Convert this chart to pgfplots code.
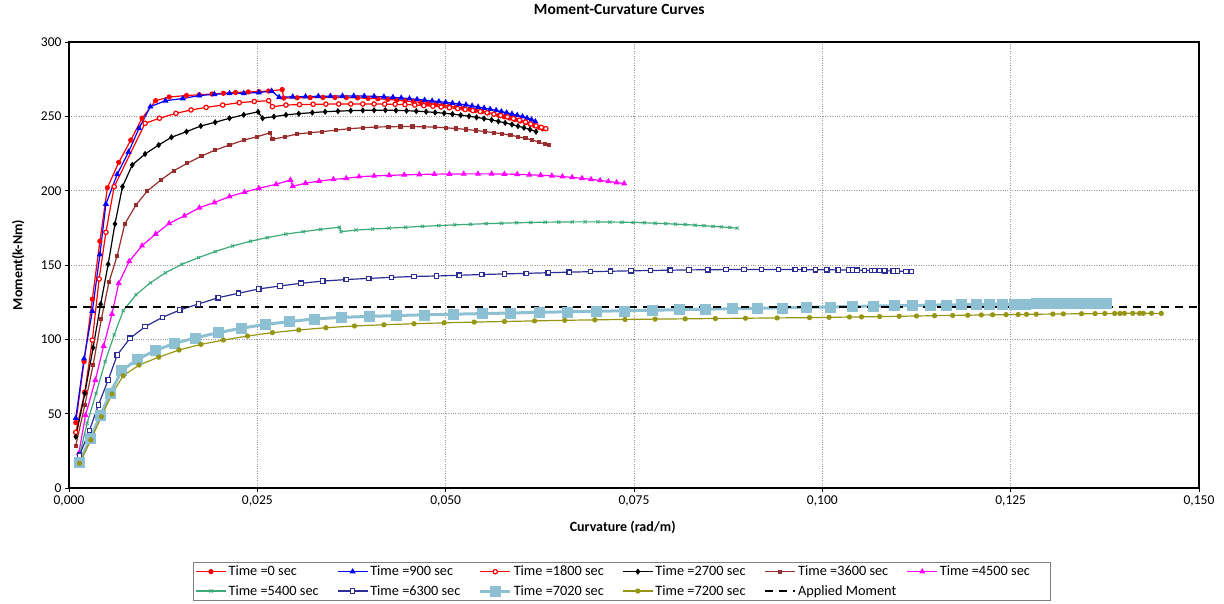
\documentclass[border=0pt]{standalone}
\usepackage{fontspec}
\setmainfont{Carlito}
\usepackage{pgfplots}
\pgfplotsset{compat=1.18}
\definecolor{cRed}{RGB}{255,0,0}
\definecolor{cBlue}{RGB}{0,0,255}
\definecolor{cDarkRed}{RGB}{153,45,45}
\definecolor{cMag}{RGB}{255,0,255}
\definecolor{cGreen}{RGB}{60,170,120}
\definecolor{cNavy}{RGB}{45,45,150}
\definecolor{cLBlue}{RGB}{140,192,210}
\definecolor{cOlive}{RGB}{150,150,20}
\begin{document}
\begin{tikzpicture}[x=1pt,y=1pt]
\useasboundingbox (0,0) rectangle (1224,603);
\begin{axis}[
  at={(69pt,115pt)}, anchor=south west,
  width=1130pt, height=446pt, scale only axis,
  xmin=0, xmax=0.15, ymin=0, ymax=300,
  xtick={0,0.025,0.05,0.075,0.1,0.125,0.15},
  xticklabels={{0,000},{0,025},{0,050},{0,075},{0,100},{0,125},{0,150}},
  ytick={0,50,100,150,200,250,300},
  yticklabels={0,50,100,150,200,250,300},
  scaled x ticks=false,
  grid=major, grid style={gray!80, dotted, line width=0.8pt},
  tick align=outside, tick pos=left, major tick length=4pt,
  tick style={black, line width=0.8pt},
  axis line style={black, line width=1.2pt},
  ticklabel style={font=\fontsize{13.5}{16}\selectfont},
  title={Moment-Curvature Curves},
  title style={at={(axis description cs:0.487,1.0605)}, anchor=center, font=\bfseries\fontsize{15.5}{18}\selectfont},
  xlabel={Curvature (rad/m)},
  xlabel style={at={(axis description cs:0.49,-0.0874)}, anchor=center, font=\bfseries\fontsize{14}{16}\selectfont},
  ylabel={Moment(k-Nm)},
  ylabel style={at={(axis description cs:-0.045,0.5)}, anchor=center, font=\bfseries\fontsize{14}{16}\selectfont},
  legend columns=6,
  legend cell align=left,
  legend style={at={(axis description cs:0.1097,-0.165)}, anchor=north west,
    draw=gray, line width=0.8pt, font=\fontsize{14.3}{16}\selectfont,
    inner sep=2pt, row sep=4pt,
    /tikz/every even column/.append style={column sep=0pt}},
  legend image code/.code={\draw[mark repeat=2,mark phase=2] plot coordinates {(0pt,0pt) (15pt,0pt) (30pt,0pt)};},
  every axis plot/.append style={line width=1.2pt},
]
% Time = 0 sec
\addplot[color=cRed, mark=*, mark size=2pt] coordinates {
(0.0009,44) (0.0020,85) (0.0031,127) (0.0041,166) (0.0051,202) (0.0066,219) (0.0082,234) (0.0097,248.7) (0.0115,260.5) (0.0133,263) (0.0156,264) (0.0173,264.5) (0.0190,265) (0.0205,265.5) (0.0221,266) (0.0238,266.4) (0.0252,266.6) (0.0265,267) (0.0283,268)
(0.0285,262.3) (0.0303,262.5) (0.0320,262.6) (0.0337,262.7) (0.0353,262.7) (0.0368,262.6) (0.0383,262.4) (0.0397,262.1) (0.0410,261.8) (0.0423,261.4) (0.0435,260.9) (0.0446,260.4) (0.0457,259.9) (0.0467,259.3) (0.0477,258.7) (0.0487,258.1) (0.0496,257.5) (0.0505,256.9) (0.0514,256.2) (0.0523,255.5) (0.0532,254.8) (0.0540,254.0) (0.0548,253.2) (0.0556,252.4) (0.0564,251.5) (0.0571,250.6) (0.0578,249.7) (0.0585,248.8) (0.0592,247.8) (0.0599,246.8) (0.0606,245.7) (0.0612,244.7) (0.0618,243.7) (0.0624,242.6) (0.0629,241.6)
};
\addlegendentry{\makebox[106.5pt][l]{Time =0 sec}}
% Time = 900 sec
\addplot[color=cBlue, mark=triangle*, mark size=2.4pt] coordinates {
(0.0009,47) (0.0020,87) (0.0031,119) (0.0041,157) (0.0049,191) (0.0064,211) (0.0079,226) (0.0093,242) (0.0108,256.5) (0.0128,260.5) (0.0151,262) (0.0173,264) (0.0193,264.8) (0.0213,265.5) (0.0232,265.5) (0.0252,266) (0.0269,267)
(0.0279,262.8) (0.0297,263.2) (0.0314,263.3) (0.0331,263.5) (0.0347,263.6) (0.0363,263.7) (0.0378,263.7) (0.0392,263.6) (0.0405,263.4) (0.0418,263.1) (0.0430,262.8) (0.0441,262.4) (0.0452,261.9) (0.0462,261.4) (0.0472,260.9) (0.0482,260.4) (0.0491,259.9) (0.0500,259.4) (0.0509,258.9) (0.0518,258.3) (0.0527,257.7) (0.0535,257.0) (0.0543,256.3) (0.0551,255.6) (0.0559,254.8) (0.0567,254.0) (0.0574,253.2) (0.0581,252.4) (0.0588,251.6) (0.0595,250.7) (0.0602,249.8) (0.0608,248.8) (0.0614,247.7) (0.0619,246.5)
};
\addlegendentry{\makebox[106.5pt][l]{Time =900 sec}}
% Time = 1800 sec
\addplot[color=cRed, mark=*, mark size=2.2pt, mark options={fill=white}] coordinates {
(0.0009,37.4) (0.0021,64.4) (0.0031,99.5) (0.0040,140.6) (0.0049,172) (0.0060,202.7) (0.0101,245.3) (0.0120,248.7) (0.0142,252) (0.0162,254.3) (0.0182,256) (0.0204,257.6) (0.0226,259.2) (0.0246,260) (0.0265,260.5)
(0.0270,256.5) (0.0288,257.6) (0.0306,257.9) (0.0324,258.1) (0.0341,258.2) (0.0358,258.3) (0.0374,258.3) (0.0390,258.3) (0.0405,258.3) (0.0419,258.2) (0.0433,258.1) (0.0446,257.9) (0.0459,257.6) (0.0471,257.2) (0.0483,256.8) (0.0494,256.3) (0.0505,255.8) (0.0516,255.2) (0.0526,254.6) (0.0536,253.9) (0.0546,253.2) (0.0555,252.4) (0.0564,251.5) (0.0573,250.6) (0.0582,249.6) (0.0590,248.5) (0.0598,247.4) (0.0606,246.2) (0.0613,244.9) (0.0620,243.6) (0.0627,242.6) (0.0633,241.7)
};
\addlegendentry{\makebox[106.5pt][l]{Time =1800 sec}}
% Time = 2700 sec
\addplot[color=black, mark=diamond*, mark size=2.2pt] coordinates {
(0.0009,34.5) (0.0021,63.7) (0.0032,94.4) (0.0042,123.6) (0.0052,150.5) (0.0061,177.6) (0.0071,202.7) (0.0084,217.3) (0.0101,224.7) (0.0119,230.7) (0.0136,235.9) (0.0156,239.7) (0.0175,243.5) (0.0194,246) (0.0213,248.7) (0.0232,251) (0.0251,253)
(0.0257,248.7) (0.0272,249.8) (0.0288,251) (0.0305,251.8) (0.0323,252.5) (0.0340,253.1) (0.0357,253.5) (0.0374,253.8) (0.0390,254) (0.0405,254.1) (0.0420,254.1) (0.0434,254) (0.0448,253.8) (0.0461,253.5) (0.0474,253.1) (0.0486,252.6) (0.0498,252.1) (0.0509,251.5) (0.0520,250.8) (0.0531,250.1) (0.0541,249.3) (0.0551,248.5) (0.0561,247.6) (0.0570,246.6) (0.0579,245.6) (0.0588,244.5) (0.0596,243.4) (0.0604,242.3) (0.0612,241.1) (0.0620,239.7)
};
\addlegendentry{\makebox[106.5pt][l]{Time =2700 sec}}
% Time = 3600 sec
\addplot[color=cDarkRed, mark=square*, mark size=1.5pt] coordinates {
(0.0009,28.5) (0.0021,55.8) (0.0032,82.7) (0.0043,113.7) (0.0053,138.4) (0.0064,156.3) (0.0074,177.6) (0.0089,190.4) (0.0104,199.8) (0.0122,207.2) (0.0139,213.4) (0.0157,218.4) (0.0176,223.3) (0.0194,227.3) (0.0213,230.7) (0.0232,234) (0.0250,236.3) (0.0267,239)
(0.0270,234.5) (0.0287,236.3) (0.0303,238.1) (0.0320,239) (0.0336,239.7) (0.0354,240.7) (0.0372,241.7) (0.0390,242.3) (0.0407,242.8) (0.0424,243) (0.0440,243.1) (0.0456,243.1) (0.0471,243) (0.0486,242.7) (0.0500,242.3) (0.0514,241.8) (0.0527,241.2) (0.0540,240.5) (0.0552,239.8) (0.0564,239) (0.0575,238.2) (0.0586,237.3) (0.0596,236.3) (0.0606,235.2) (0.0615,234) (0.0624,232.6) (0.0632,231.3) (0.0637,230.5)
};
\addlegendentry{\makebox[106.5pt][l]{Time =3600 sec}}
% Time = 4500 sec
\addplot[color=cMag, mark=triangle*, mark size=2.4pt] coordinates {
(0.0013,23.3) (0.0022,49) (0.0035,72.6) (0.0046,95.5) (0.0057,117) (0.0066,137.7) (0.0080,152.5) (0.0097,163) (0.0115,170.8) (0.0133,178) (0.0153,183) (0.0173,188.5) (0.0193,192) (0.0213,196) (0.0233,199) (0.0252,201.6) (0.0275,204.3) (0.0294,207.2)
(0.0297,203) (0.0314,205) (0.0332,206.5) (0.0351,207.6) (0.0368,208.3) (0.0385,209.4) (0.0405,209.9) (0.0425,210.3) (0.0445,210.6) (0.0465,210.9) (0.0485,211.1) (0.0505,211.2) (0.0524,211.3) (0.0543,211.3) (0.0561,211.3) (0.0578,211.2) (0.0595,211.0) (0.0611,210.7) (0.0626,210.4) (0.0641,210.0) (0.0655,209.5) (0.0668,208.9) (0.0681,208.3) (0.0693,207.6) (0.0705,206.9) (0.0716,206.2) (0.0727,205.5) (0.0737,204.8)
};
\addlegendentry{\makebox[106.5pt][l]{Time =4500 sec}}
% Time = 5400 sec
\addplot[color=cGreen, mark=x, mark size=2.2pt, mark options={line width=0.9pt}] coordinates {
(0.0013,20) (0.0024,43.5) (0.0036,63.7) (0.0048,85) (0.0060,103) (0.0072,119.3) (0.0089,130) (0.0108,138) (0.0128,144.8) (0.0150,150.5) (0.0172,155) (0.0194,159) (0.0217,162.8) (0.0241,166) (0.0263,168.4) (0.0288,170.8) (0.0311,172.4) (0.0334,174) (0.0359,175.4)
(0.0361,172.4) (0.0381,173.5) (0.0403,174.2) (0.0425,174.8) (0.0447,175.4) (0.0469,176) (0.0491,176.5) (0.0512,177) (0.0533,177.4) (0.0554,177.8) (0.0574,178.1) (0.0594,178.4) (0.0613,178.6) (0.0632,178.8) (0.0650,178.9) (0.0668,179) (0.0685,179) (0.0702,179) (0.0718,178.9) (0.0734,178.8) (0.0749,178.6) (0.0764,178.4) (0.0778,178.1) (0.0792,177.8) (0.0805,177.5) (0.0818,177.2) (0.0831,176.8) (0.0843,176.4) (0.0855,176.0) (0.0866,175.6) (0.0877,175.2) (0.0887,174.8)
};
\addlegendentry{\makebox[106.5pt][l]{Time =5400 sec}}
% Time = 6300 sec
\addplot[color=cNavy, mark=square*, mark size=2.2pt, mark options={fill=white}] coordinates {
(0.0014,22) (0.0027,38.5) (0.0039,55.8) (0.0052,72.6) (0.0064,89.5) (0.0081,100.7) (0.0101,108.5) (0.0124,114.8) (0.0147,119.7) (0.0172,123.8) (0.0198,128) (0.0225,131) (0.0252,133.9) (0.0280,135.9) (0.0308,137.7) (0.0337,139.2) (0.0368,140.2) (0.0398,141) (0.0428,141.7) (0.0458,142.3) (0.0488,142.6) (0.0518,143.1) (0.0548,143.6) (0.0578,144.0) (0.0607,144.4) (0.0636,144.8) (0.0664,145.2) (0.0692,145.5) (0.0719,145.8) (0.0746,146.1) (0.0772,146.3) (0.0798,146.5) (0.0823,146.7) (0.0848,146.8) (0.0872,146.9) (0.0896,147.0) (0.0919,147.0) (0.0942,147.0) (0.0964,146.9) (0.0976,146.9) (0.0991,146.8) (0.1006,146.8) (0.1021,146.7) (0.1035,146.6) (0.1040,146.6) (0.1046,146.5) (0.1056,146.4) (0.1065,146.3) (0.1069,146.3) (0.1076,146.2) (0.1083,146.1) (0.1094,146.0) (0.1100,145.9) (0.1111,145.7) (0.1118,145.5)
};
\addlegendentry{\makebox[106.5pt][l]{Time =6300 sec}}
% Time = 7020 sec
\addplot[color=cLBlue, line width=3pt, mark=square*, mark size=5pt, mark options={line width=0.5pt}] coordinates {
(0.0014,17) (0.0028,33.4) (0.0042,49) (0.0055,64) (0.0070,79) (0.0091,86.6) (0.0114,92.4) (0.0140,97.3) (0.0168,101) (0.0198,104.5) (0.0228,107.4) (0.0260,110) (0.0292,111.9) (0.0325,113.7) (0.0362,114.8) (0.0398,115.4) (0.0435,116.0) (0.0472,116.5) (0.0510,116.9) (0.0548,117.3) (0.0586,117.7) (0.0624,118.2) (0.0662,118.5) (0.0700,118.9) (0.0737,119.2) (0.0774,119.6) (0.0810,119.9) (0.0845,120.3) (0.0880,120.6) (0.0914,120.9) (0.0947,121.2) (0.0979,121.5) (0.1010,121.8) (0.1040,122.1) (0.1068,122.4) (0.1095,122.6) (0.1120,122.8) (0.1143,123.0) (0.1165,123.2) (0.1185,123.3) (0.1204,123.5) (0.1222,123.6) (0.1239,123.7) (0.1255,123.8) (0.1270,123.9) (0.1284,124.0) (0.1297,124.0) (0.1310,124.1) (0.1322,124.1) (0.1334,124.1) (0.1346,124.1) (0.1358,124.1) (0.1370,124.1) (0.1377,124.1)
};
\addlegendentry{\makebox[106.5pt][l]{Time =7020 sec}}
% Time = 7200 sec
\addplot[color=cOlive, mark=*, mark size=2pt] coordinates {
(0.0014,16.6) (0.0029,32.3) (0.0043,48) (0.0057,63.2) (0.0072,75.5) (0.0093,82.7) (0.0119,88) (0.0146,92.8) (0.0175,96.6) (0.0205,99.5) (0.0237,102.2) (0.0270,104.5) (0.0305,106.3) (0.0341,107.8) (0.0379,109) (0.0418,109.8) (0.0458,110.5) (0.0498,111.1) (0.0538,111.6) (0.0578,112.0) (0.0618,112.4) (0.0658,112.8) (0.0698,113.1) (0.0738,113.4) (0.0778,113.6) (0.0818,113.8) (0.0858,114.0) (0.0898,114.2) (0.0940,114.4) (0.0983,114.6) (0.1009,114.8) (0.1036,115.0) (0.1052,115.1) (0.1076,115.3) (0.1102,115.5) (0.1125,115.7) (0.1149,115.9) (0.1173,116.1) (0.1193,116.2) (0.1211,116.4) (0.1226,116.5) (0.1244,116.6) (0.1260,116.7) (0.1271,116.8) (0.1284,116.9) (0.1306,117.0) (0.1320,117.1) (0.1344,117.2) (0.1362,117.3) (0.1375,117.4) (0.1388,117.4) (0.1395,117.4) (0.1401,117.5) (0.1412,117.5) (0.1421,117.5) (0.1426,117.5) (0.1437,117.5) (0.1450,117.4)
};
\addlegendentry{\makebox[106.5pt][l]{Time =7200 sec}}
% Applied moment
\addplot[color=black, line width=2.2pt, dash pattern=on 8pt off 6pt, mark=none] coordinates {(0,121.5) (0.15,121.5)};
\addlegendentry{\makebox[106.5pt][l]{Applied Moment}}
\end{axis}
\end{tikzpicture}
\end{document}
